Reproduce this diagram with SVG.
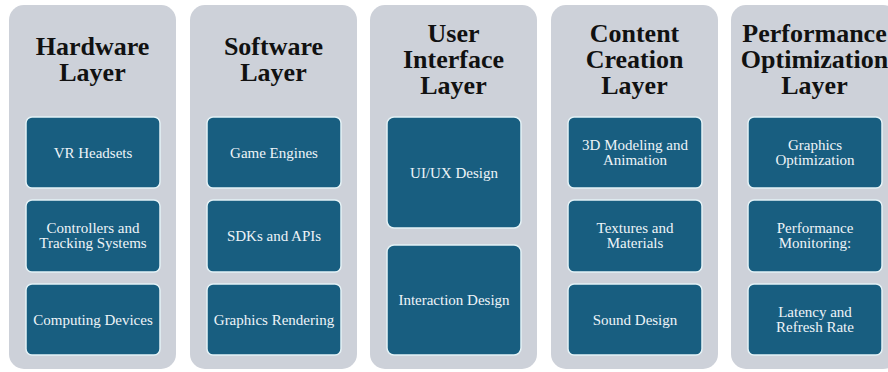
<svg xmlns="http://www.w3.org/2000/svg" width="888" height="372" viewBox="0 0 888 372">
<style>
.panel{fill:#cdd1d9;}
.box{fill:#185e80;stroke:#e4f2f6;stroke-width:1.5;}
.title{font-family:"Liberation Serif","Times New Roman",serif;font-weight:bold;font-size:26px;fill:#111111;text-anchor:middle;}
.lbl{font-family:"Liberation Serif","Times New Roman",serif;font-size:15px;fill:#eef4f8;text-anchor:middle;}
</style>
<rect width="888" height="372" fill="#ffffff"/>
<g id="hardware">
<rect class="panel" x="9" y="5" width="167" height="364" rx="15"/>
<text class="title" x="92.5" y="55">Hardware<tspan x="92.5" dy="26">Layer</tspan></text>
</g>
<g id="vr-headsets"><rect class="box" x="26" y="117" width="134" height="71" rx="6"/><text class="lbl" x="93" y="157.5">VR Headsets</text></g>
<g id="controllers"><rect class="box" x="26" y="200" width="134" height="72" rx="6"/><text class="lbl" x="93" y="233">Controllers and<tspan x="93" dy="15">Tracking Systems</tspan></text></g>
<g id="computing"><rect class="box" x="26" y="284" width="134" height="71" rx="6"/><text class="lbl" x="93" y="324.5">Computing Devices</text></g>

<g id="software">
<rect class="panel" x="190" y="5" width="167" height="364" rx="15"/>
<text class="title" x="273.5" y="55">Software<tspan x="273.5" dy="26">Layer</tspan></text>
</g>
<g id="game-engines"><rect class="box" x="207" y="117" width="134" height="71" rx="6"/><text class="lbl" x="274" y="157.5">Game Engines</text></g>
<g id="sdks"><rect class="box" x="207" y="200" width="134" height="72" rx="6"/><text class="lbl" x="274" y="241">SDKs and APIs</text></g>
<g id="graphics-rendering"><rect class="box" x="207" y="284" width="134" height="71" rx="6"/><text class="lbl" x="274" y="324.5">Graphics Rendering</text></g>

<g id="ui">
<rect class="panel" x="370" y="5" width="167" height="364" rx="15"/>
<text class="title" x="453.5" y="42">User<tspan x="453.5" dy="26">Interface</tspan><tspan x="453.5" dy="26">Layer</tspan></text>
</g>
<g id="uiux"><rect class="box" x="387" y="117" width="134" height="111" rx="7"/><text class="lbl" x="454" y="177.5">UI/UX Design</text></g>
<g id="interaction"><rect class="box" x="387" y="245" width="134" height="110" rx="7"/><text class="lbl" x="454" y="305">Interaction Design</text></g>

<g id="content">
<rect class="panel" x="551" y="5" width="167" height="364" rx="15"/>
<text class="title" x="634.5" y="42">Content<tspan x="634.5" dy="26">Creation</tspan><tspan x="634.5" dy="26">Layer</tspan></text>
</g>
<g id="modeling"><rect class="box" x="568" y="117" width="134" height="71" rx="6"/><text class="lbl" x="635" y="150">3D Modeling and<tspan x="635" dy="15">Animation</tspan></text></g>
<g id="textures"><rect class="box" x="568" y="200" width="134" height="72" rx="6"/><text class="lbl" x="635" y="233">Textures and<tspan x="635" dy="15">Materials</tspan></text></g>
<g id="sound"><rect class="box" x="568" y="284" width="134" height="71" rx="6"/><text class="lbl" x="635" y="324.5">Sound Design</text></g>

<g id="performance">
<rect class="panel" x="731" y="5" width="167" height="364" rx="15"/>
<text class="title" x="814.5" y="42">Performance<tspan x="814.5" dy="26">Optimization</tspan><tspan x="814.5" dy="26">Layer</tspan></text>
</g>
<g id="graphics-opt"><rect class="box" x="748" y="117" width="134" height="71" rx="6"/><text class="lbl" x="815" y="150">Graphics<tspan x="815" dy="15">Optimization</tspan></text></g>
<g id="monitoring"><rect class="box" x="748" y="200" width="134" height="72" rx="6"/><text class="lbl" x="815" y="233">Performance<tspan x="815" dy="15">Monitoring:</tspan></text></g>
<g id="latency"><rect class="box" x="748" y="284" width="134" height="71" rx="6"/><text class="lbl" x="815" y="317">Latency and<tspan x="815" dy="15">Refresh Rate</tspan></text></g>
<g id="connectors"></g>
</svg>
